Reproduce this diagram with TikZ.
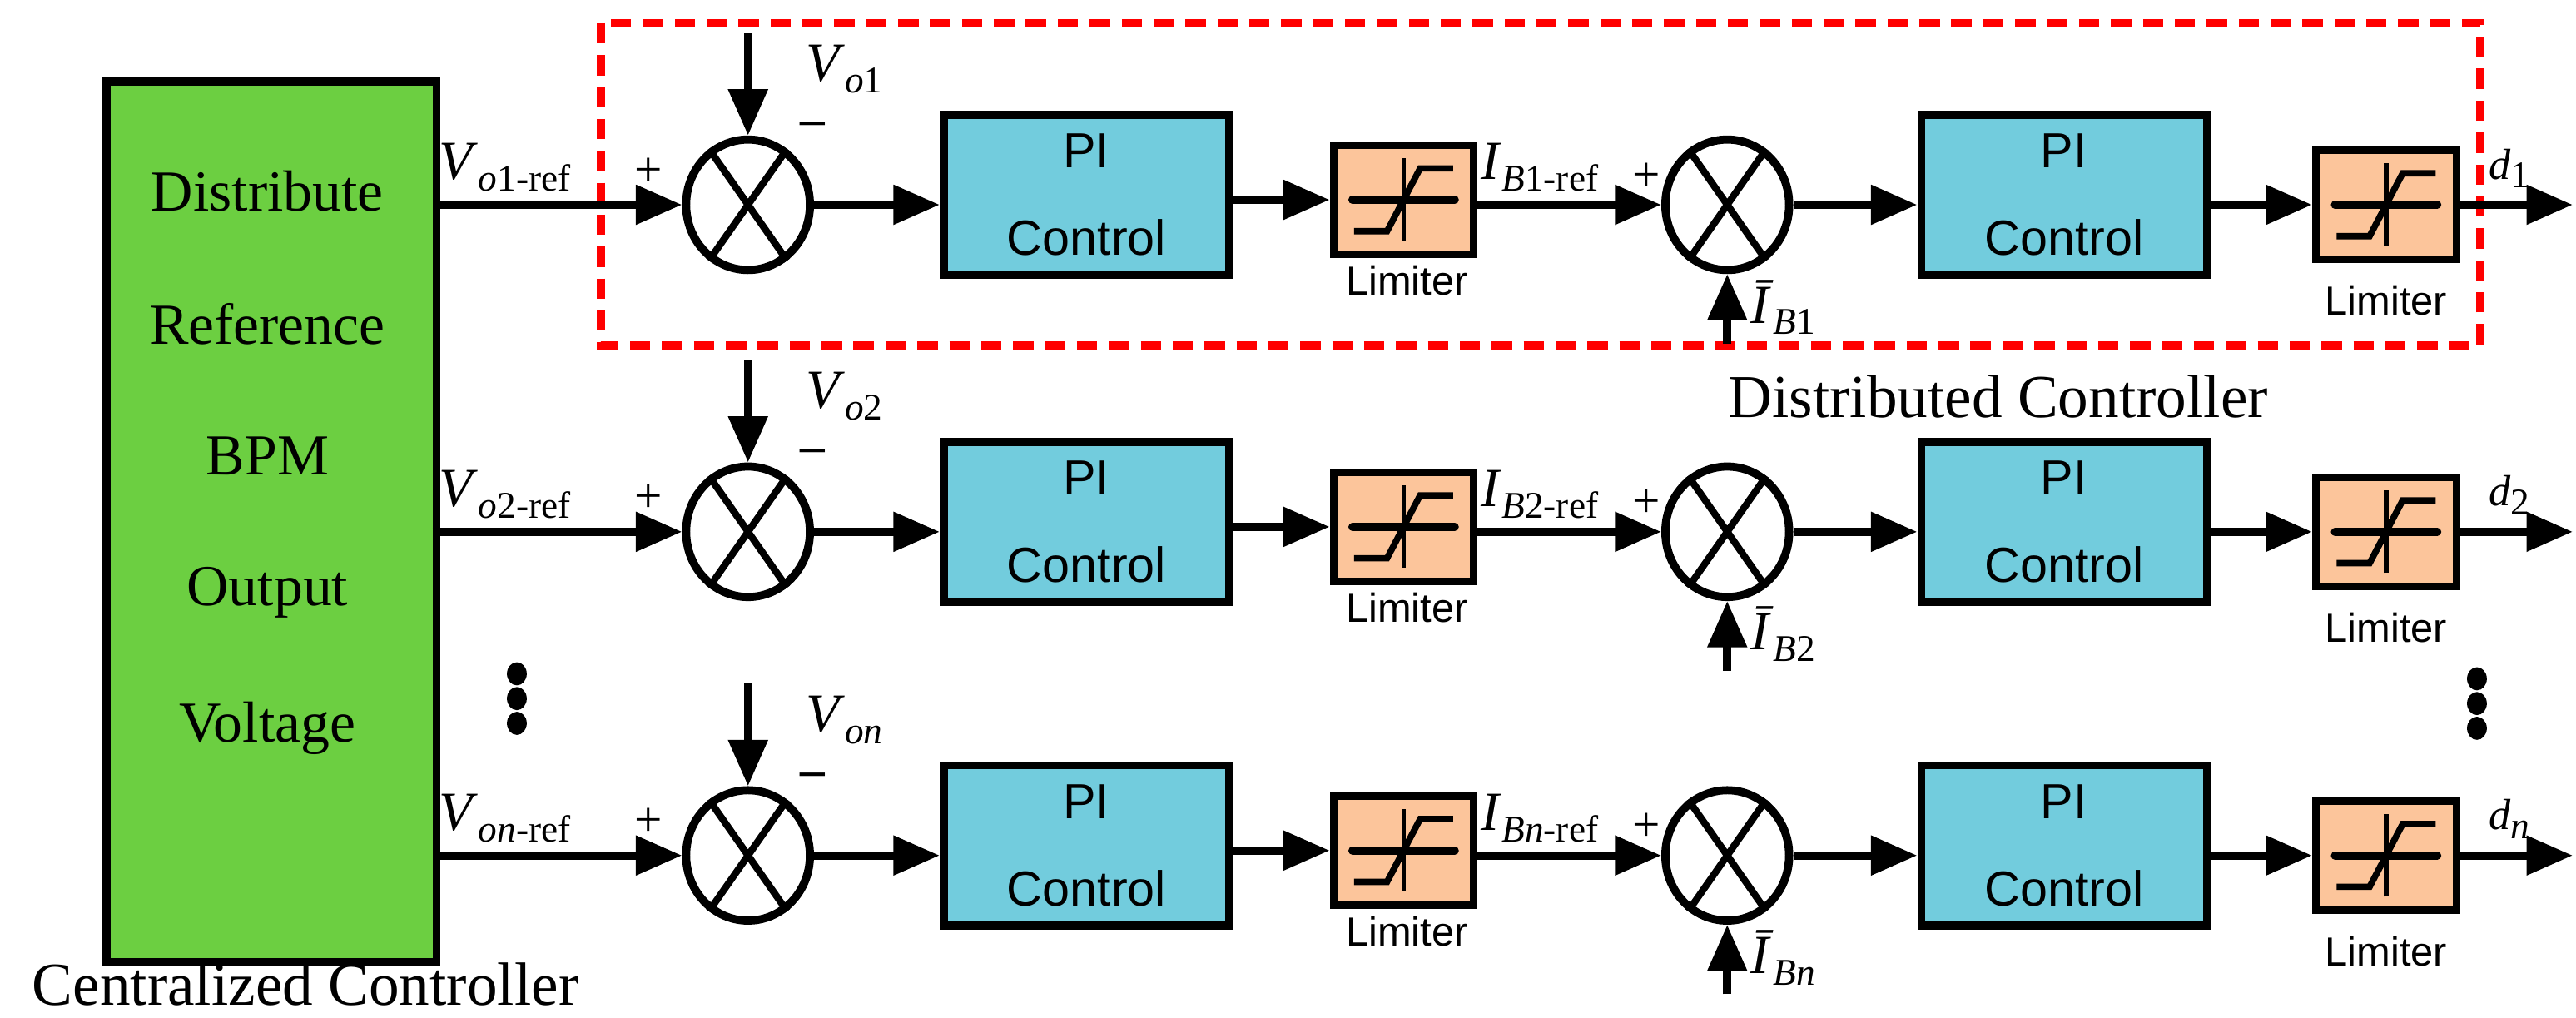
\documentclass[tikz,border=0pt]{standalone}
\usepackage{fontspec}
\setmainfont{Liberation Serif}
\newfontfamily\sansf{Liberation Sans}
\usetikzlibrary{shapes.geometric,arrows.meta}
\definecolor{gr}{HTML}{6CCF41}
\definecolor{bl}{HTML}{72CCDD}
\definecolor{pk}{HTML}{FCC59B}
\newcommand\sub[1]{\raisebox{-0.45ex}{\fontsize{13}{14}\selectfont #1}}
\tikzset{
 ln/.style={line width=2.8pt},
 ar/.style={ln,-{Triangle[length=0.56cm,width=0.46cm]}},
 sumj/.style={draw,ellipse,line width=2.8pt,minimum width=1.5cm,minimum height=1.58cm,inner sep=0pt},
 pib/.style={draw,fill=bl,line width=2.8pt,minimum width=3.46cm,minimum height=1.94cm,align=center,font=\sansf\fontsize{17}{30}\selectfont},
 limb/.style={draw,fill=pk,line width=2.6pt,minimum width=1.7cm,minimum height=1.32cm,inner sep=0pt},
 limlab/.style={font=\sansf\fontsize{14}{16}\selectfont},
 lab/.style={font=\fontsize{19}{22}\selectfont,inner sep=1pt},
 pm/.style={font=\fontsize{17}{20}\selectfont,inner sep=0pt}
}
\newcommand\limsym[1]{%
 \draw[line width=1.6pt] ([yshift=-0.5cm]#1.center)--([yshift=0.5cm]#1.center);
 \draw[line width=2.8pt,line cap=round] ([xshift=-0.62cm]#1.center)--([xshift=0.62cm]#1.center);
 \draw[line width=2.2pt] ([xshift=-0.6cm,yshift=-0.38cm]#1.center)--([xshift=-0.2cm,yshift=-0.38cm]#1.center)--([xshift=0.2cm,yshift=0.38cm]#1.center)--([xshift=0.6cm,yshift=0.38cm]#1.center);}
% #1 y0, #2 suffix, #3 Vref, #4 V, #5 Iref, #6 Ibar, #7 d
\newcommand\ctrlrow[7]{%
 \coordinate (in#2) at (262,#1);
 \node[sumj] (s#2) at (453,#1) {};
 \draw[line width=2.4pt] (s#2.125)--(s#2.-55) (s#2.55)--(s#2.-125);
 \coordinate (vt#2) at (453,#1-104);
 \node[pib] (p#2) at (658,#1-6) {PI\\Control};
 \node[limb] (l#2) at (850,#1-3) {};
 \limsym{l#2}
 \node[limlab] (ll#2) at (852,#1+46) {Limiter};
 \node[sumj] (t#2) at (1046,#1) {};
 \draw[line width=2.4pt] (t#2.125)--(t#2.-55) (t#2.55)--(t#2.-125);
 \coordinate (ib#2) at (1046,#1+84);
 \node[pib] (q#2) at (1250,#1-6) {PI\\Control};
 \node[limb] (m#2) at (1445,#1) {};
 \limsym{m#2}
 \node[limlab] (ml#2) at (1445,#1+58) {Limiter};
 \coordinate (o#2) at (1558,#1);
 \draw[ar] (in#2)--(s#2.west);
 \draw[ar] (vt#2)--(s#2.north);
 \draw[ar] (s#2.east)--(p#2.west|-s#2);
 \draw[ar] (p#2.east|-l#2)--(l#2.west);
 \draw[ar] (l#2.east|-t#2)--(t#2.west);
 \draw[ar] (ib#2)--(t#2.south);
 \draw[ar] (t#2.east)--(q#2.west|-t#2);
 \draw[ar] (q#2.east|-m#2)--(m#2.west);
 \draw[ar] (m#2.east)--(o#2);
 \node[lab,anchor=south west] (vr#2) at (264,#1-6) {#3};
 \node[pm] (pa#2) at (393,#1-20) {+};
 \node[lab,anchor=west] (vv#2) at (486,#1-82) {#4};
 \node[pm] (mi#2) at (492,#1-46) {\textbf{–}};
 \node[lab,anchor=south west] (ir#2) at (895,#1-6) {#5};
 \node[pm] (pb#2) at (997,#1-17) {+};
 \node[lab,anchor=west] (ibl#2) at (1058,#1+62) {#6};
 \node[lab,anchor=west,font=\fontsize{15}{18}\selectfont] (d#2) at (1505,#1-22) {#7};
}
\begin{document}
\begin{tikzpicture}[x=0.02cm,y=-0.02cm]
\useasboundingbox (0,0) rectangle (1560,616);
\node[draw,fill=gr,line width=2.8pt,minimum width=4cm,minimum height=10.66cm,anchor=north west] (cc) at (62,47) {};
\foreach \t/\yy [count=\i] in {Distribute/116,Reference/196,BPM/276,Output/359,Voltage/441}
  \node[font=\fontsize{20}{24}\selectfont] (cl\i) at (162,\yy) {\t};
\node[font=\fontsize{21}{24}\selectfont] (ccl) at (185,596) {Centralized Controller};
\draw[red,line width=2.8pt,dash pattern=on 7pt off 4pt] (364,14) rectangle (1502,209);
\node[font=\fontsize{21}{24}\selectfont] (dcl) at (1210,240) {Distributed Controller};
\ctrlrow{124}{a}{\textit{V}\sub{\textit{o}1-ref}}{\textit{V}\sub{\textit{o}1}}{\textit{I}\sub{\textit{B}1-ref}}{\textit{\=I}\sub{\textit{B}1}}{\textit{d}\sub{1}}
\ctrlrow{322}{b}{\textit{V}\sub{\textit{o}2-ref}}{\textit{V}\sub{\textit{o}2}}{\textit{I}\sub{\textit{B}2-ref}}{\textit{\=I}\sub{\textit{B}2}}{\textit{d}\sub{2}}
\ctrlrow{518}{c}{\textit{V}\sub{\textit{on}-ref}}{\textit{V}\sub{\textit{on}}}{\textit{I}\sub{\textit{Bn}-ref}}{\textit{\=I}\sub{\textit{Bn}}}{\textit{d}\sub{\textit{n}}}
\foreach \yy in {408,423,438} {\fill (313,\yy) ellipse (6 and 7); \fill (1500,\yy+3) ellipse (6 and 7);}
\end{tikzpicture}
\end{document}
